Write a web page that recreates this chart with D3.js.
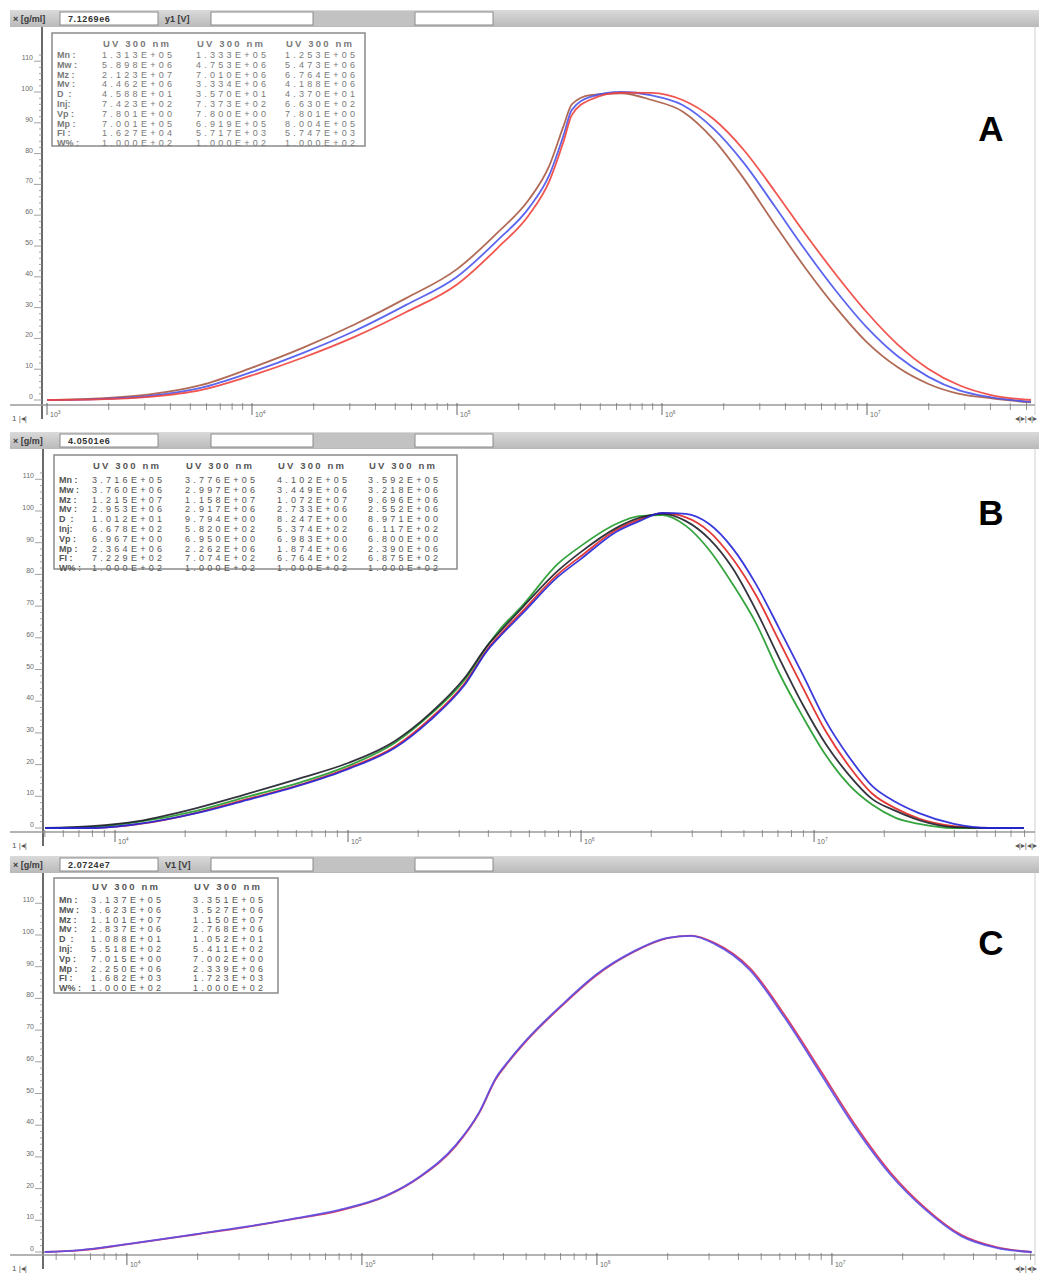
<!DOCTYPE html>
<html>
<head>
<meta charset="utf-8">
<script src="https://cdn.jsdelivr.net/npm/d3@7"></script>
<style>
  body { margin: 0; background: #fff; }
  svg { display: block; }
</style>
</head>
<body>
<div id="chart"></div>
<script>
// ---------- data (log10 M vs normalised signal) ----------
const aLogM  = [3.0, 3.25, 3.5, 3.75, 4.0, 4.25, 4.5, 4.75, 5.0, 5.2, 5.35, 5.45, 5.52, 5.56, 5.65, 5.8, 5.95, 6.1, 6.25, 6.4, 6.55, 6.7, 6.85, 7.0, 7.15, 7.3, 7.45, 7.6, 7.8];
const aBrown = [0, 0.5, 1.8, 4.8, 10.5, 17, 24.5, 33, 42.5, 54.5, 65, 76, 89, 96, 99, 99.6, 97.4, 93.7, 84.7, 71.8, 57, 42.8, 29.9, 18.7, 10.6, 5.2, 2.0, 0.6, -0.8];
const aBlue  = [0, 0.3, 1.3, 3.9, 9.1, 15.3, 22.4, 30.8, 40, 52, 62.3, 73, 86, 94.2, 98.4, 100, 98.9, 95.8, 88.2, 76.9, 62.9, 48.6, 35.3, 23.5, 14.2, 7.5, 3.1, 0.9, -0.6];
const aRed   = [0, 0.2, 1, 3.2, 8, 13.8, 20.5, 28.5, 37.5, 49.5, 60, 71, 84, 92.5, 97.5, 99.8, 99.7, 97.4, 91.3, 81.1, 67.8, 53.8, 40.6, 28.4, 18, 10.1, 4.8, 1.7, 0];

const bLogM  = [3.7, 3.9, 4.1, 4.35, 4.55, 4.8, 5.0, 5.2, 5.35, 5.5, 5.6, 5.65, 5.75, 5.9, 6.0, 6.15, 6.25, 6.35, 6.45, 6.55, 6.65, 6.75, 6.85, 6.95, 7.05, 7.15, 7.25, 7.35, 7.45, 7.6, 7.75, 7.9];
const bRed   = [0, 0, 1.2, 4.8, 8.8, 13.8, 18.9, 25.6, 34.3, 45.6, 56.6, 60.8, 68.5, 80, 85.8, 94, 97.3, 99.3, 98, 93.5, 85, 73.5, 59, 44.5, 30.5, 19.5, 10.8, 6.2, 3, 0.6, 0, 0];
const bGreen = [0, 0.3, 1.9, 5.4, 9.5, 14.5, 19.6, 26.8, 35.6, 46.7, 57.7, 62.5, 70.3, 83.3, 89, 95.9, 98.4, 98.7, 95.3, 87.7, 77, 64.7, 48.9, 35.3, 23, 13.6, 7.3, 3.2, 1.3, 0, 0, 0];
const bBlack = [0, 0.6, 2.2, 6.3, 10.4, 15.8, 20.5, 27.4, 36, 47.3, 57.7, 61.8, 69.7, 81.1, 87.1, 94.6, 97.8, 99.1, 96.8, 91.2, 82, 68.8, 53.6, 39.1, 26.5, 16.7, 9.1, 5.4, 2.5, 0.3, 0, 0];
const bBlue  = [0, 0, 1.3, 4.7, 8.5, 13.6, 18.6, 25.2, 33.8, 45.1, 56.2, 60.3, 67.8, 79.2, 84.9, 93.4, 96.8, 99.4, 99.1, 95.9, 88.3, 77, 63, 48.6, 33.8, 22.4, 13.2, 8.2, 4.7, 1.3, 0, 0];

const cLogM  = [3.65, 3.8, 4.0, 4.3, 4.5, 4.7, 4.9, 5.1, 5.25, 5.4, 5.5, 5.57, 5.62, 5.7, 5.85, 6.0, 6.15, 6.3, 6.4, 6.5, 6.65, 6.8, 6.95, 7.1, 7.25, 7.4, 7.55, 7.7, 7.85];
const cRed   = [0, 0.5, 2.4, 5.6, 7.8, 10.3, 13.0, 17.5, 23.8, 33.5, 44.0, 54.6, 59.6, 66.6, 77.6, 87.4, 94.4, 99.0, 99.8, 97.5, 89.6, 74.6, 57.4, 40.0, 25.0, 13.7, 5.4, 1.5, 0];
const cBlue  = [0, 0.6, 2.5, 5.7, 7.9, 10.4, 13.2, 17.7, 24, 33.8, 44.2, 54.9, 59.9, 66.9, 77.9, 87.7, 94.6, 99.1, 99.7, 97.2, 89, 73.8, 56.5, 39.1, 24.3, 13.2, 5, 1.3, 0];

const yTicks = [0, 10, 20, 30, 40, 50, 60, 70, 80, 90, 100, 110];
const aDecades = [3, 4, 5, 6, 7];
const bDecades = [4, 5, 6, 7];
const cDecades = [4, 5, 6, 7];

// result tables
const rowNames = ['Mn :', 'Mw :', 'Mz :', 'Mv :', 'D  :', 'Inj:', 'Vp :', 'Mp :', 'FI :', 'W% :'];
const colHeader = 'UV 300 nm';
const aTable = [
  ['1.313E+05', '5.898E+06', '2.123E+07', '4.462E+06', '4.588E+01', '7.423E+02', '7.801E+00', '7.001E+05', '1.627E+04', '1.000E+02'],
  ['1.333E+05', '4.753E+06', '7.010E+06', '3.334E+06', '3.570E+01', '7.373E+02', '7.800E+00', '6.919E+05', '5.717E+03', '1.000E+02'],
  ['1.253E+05', '5.473E+06', '6.764E+06', '4.188E+06', '4.370E+01', '6.630E+02', '7.801E+00', '8.004E+05', '5.747E+03', '1.000E+02']
];
const bTable = [
  ['3.716E+05', '3.760E+06', '1.215E+07', '2.953E+06', '1.012E+01', '6.678E+02', '6.967E+00', '2.364E+06', '7.229E+02', '1.000E+02'],
  ['3.776E+05', '2.997E+06', '1.158E+07', '2.917E+06', '9.794E+00', '5.820E+02', '6.950E+00', '2.262E+06', '7.074E+02', '1.000E+02'],
  ['4.102E+05', '3.449E+06', '1.072E+07', '2.733E+06', '8.247E+00', '5.374E+02', '6.983E+00', '1.874E+06', '6.764E+02', '1.000E+02'],
  ['3.592E+05', '3.218E+06', '9.696E+06', '2.552E+06', '8.971E+00', '6.117E+02', '6.800E+00', '2.390E+06', '6.875E+02', '1.000E+02']
];
const cTable = [
  ['3.137E+05', '3.623E+06', '1.101E+07', '2.837E+06', '1.088E+01', '5.518E+02', '7.015E+00', '2.250E+06', '1.682E+03', '1.000E+02'],
  ['3.351E+05', '3.527E+06', '1.150E+07', '2.768E+06', '1.052E+01', '5.411E+02', '7.002E+00', '2.339E+06', '1.723E+03', '1.000E+02']
];

// ---------- layout ----------
const width = 1039;
const height = 1274;
const rightEdge = 1035;

const panels = [
  {
    letter: 'A', top: 10, unit: '× [g/ml]', value: '7.1269e6', yLabel: 'y1 [V]',
    axisX: 42, xAxisY: 405, zeroY: 400, ppu: 3.08, xLo: 2.9756, xHi: 7.8195, decades: aDecades,
    series: [
      { logM: aLogM, v: aBrown, color: '#a85a44' },
      { logM: aLogM, v: aBlue, color: '#4a55ec' },
      { logM: aLogM, v: aRed, color: '#f0423c' }
    ],
    table: aTable, box: [52, 33, 313, 113], cols: [137, 231, 320], headY: 44, rowY: 55, rowStep: 9.8,
    textColor: '#7a7a7a', letterY: 141
  },
  {
    letter: 'B', top: 432, unit: '× [g/m]', value: '4.0501e6', yLabel: '',
    axisX: 43, xAxisY: 832, zeroY: 828, ppu: 3.17, xLo: 3.691, xHi: 7.948, decades: bDecades,
    series: [
      { logM: bLogM, v: bRed, color: '#e02424' },
      { logM: bLogM, v: bGreen, color: '#1f9a2a' },
      { logM: bLogM, v: bBlack, color: '#1e1e2a' },
      { logM: bLogM, v: bBlue, color: '#2424d8' }
    ],
    table: bTable, box: [54, 455, 403, 114], cols: [127, 220, 312, 403], headY: 466, rowY: 480, rowStep: 9.8,
    textColor: '#555', letterY: 525
  },
  {
    letter: 'C', top: 856, unit: '× [g/m]', value: '2.0724e7', yLabel: 'V1 [V]',
    axisX: 43, xAxisY: 1255, zeroY: 1252, ppu: 3.17, xLo: 3.643, xHi: 7.864, decades: cDecades,
    series: [
      { logM: cLogM, v: cRed, color: '#d42a5a' },
      { logM: cLogM, v: cBlue, color: '#5a4ee6' }
    ],
    table: cTable, box: [54, 878, 224, 115], cols: [126, 228], headY: 887, rowY: 900, rowStep: 9.8,
    textColor: '#555', letterY: 955
  }
];

const svg = d3.select('#chart')
  .append('svg')
  .attr('width', width)
  .attr('height', height)
  .style('font-family', "'Liberation Sans', Arial, sans-serif");

const defs = svg.append('defs');
const grad = defs.append('linearGradient').attr('id', 'bar').attr('x1', 0).attr('y1', 0).attr('x2', 0).attr('y2', 1);
grad.append('stop').attr('offset', '0%').attr('stop-color', '#dadada');
grad.append('stop').attr('offset', '100%').attr('stop-color', '#b9b9b9');

function drawPanel(p) {
  const g = svg.append('g');

  // toolbar strip on top of each plot
  const barH = 17;
  g.append('rect').attr('x', 10).attr('y', p.top).attr('width', width - 10).attr('height', barH)
    .attr('fill', 'url(#bar)');
  g.append('rect').attr('x', 313).attr('y', p.top + 1).attr('width', 101).attr('height', barH - 2)
    .attr('fill', '#c2c2c2');
  [[60, 98], [211, 102], [415, 78]].forEach(([bx, bw]) => {
    g.append('rect').attr('x', bx).attr('y', p.top + 2).attr('width', bw).attr('height', barH - 4)
      .attr('fill', '#fff').attr('stroke', '#8a8a8a').attr('stroke-width', 1);
  });
  g.append('text').attr('x', 13).attr('y', p.top + 12).attr('font-size', 9).attr('font-weight', 'bold')
    .attr('fill', '#3a3a3a').text(p.unit);
  g.append('text').attr('x', 68).attr('y', p.top + 12).attr('font-size', 9).attr('font-weight', 'bold')
    .attr('fill', '#333').attr('letter-spacing', 0.6).text(p.value);
  if (p.yLabel) {
    g.append('text').attr('x', 165).attr('y', p.top + 12).attr('font-size', 9).attr('font-weight', 'bold')
      .attr('fill', '#3a3a3a').text(p.yLabel);
  }

  const x = d3.scaleLog()
    .domain([Math.pow(10, p.xLo), Math.pow(10, p.xHi)])
    .range([p.axisX, rightEdge]);

  const y = d3.scaleLinear()
    .domain([0, 110])
    .range([p.zeroY, p.zeroY - 110 * p.ppu]);

  // frame at right
  g.append('line').attr('x1', rightEdge).attr('x2', rightEdge)
    .attr('y1', p.top + barH).attr('y2', p.xAxisY + 10)
    .attr('stroke', '#d0d0d0');

  // y axis
  g.append('line').attr('x1', p.axisX).attr('x2', p.axisX)
    .attr('y1', p.top + barH).attr('y2', p.xAxisY + 14)
    .attr('stroke', '#6a6a6a').attr('stroke-width', 2);

  d3.range(0, 114, 2).forEach(v => {
    if (y(v) < p.top + barH + 2) return;
    const major = v % 10 === 0;
    g.append('line').attr('x1', p.axisX - (major ? 8 : 3)).attr('x2', p.axisX)
      .attr('y1', y(v)).attr('y2', y(v))
      .attr('stroke', '#8a8a8a').attr('stroke-width', 0.8);
  });

  yTicks.forEach(v => {
    g.append('text').attr('x', p.axisX - 9).attr('y', y(v) - 1)
      .attr('text-anchor', 'end').attr('font-size', 7).attr('fill', '#6a6a6a')
      .text(v);
  });

  // x axis
  g.append('line').attr('x1', 10).attr('x2', rightEdge)
    .attr('y1', p.xAxisY).attr('y2', p.xAxisY)
    .attr('stroke', '#9a9a9a').attr('stroke-width', 1.5);

  const dMin = Math.floor(p.xLo), dMax = Math.ceil(p.xHi);
  for (let d = dMin; d <= dMax; d++) {
    for (let m = 2; m <= 9; m++) {
      const val = m * Math.pow(10, d);
      const lv = Math.log10(val);
      if (lv < p.xLo || lv > p.xHi) continue;
      g.append('line').attr('x1', x(val)).attr('x2', x(val))
        .attr('y1', p.xAxisY - 2).attr('y2', p.xAxisY + 5)
        .attr('stroke', '#777').attr('stroke-width', 0.8);
    }
  }
  p.decades.forEach(e => {
    const px = x(Math.pow(10, e));
    g.append('line').attr('x1', px).attr('x2', px)
      .attr('y1', p.xAxisY - 2).attr('y2', p.xAxisY + 10)
      .attr('stroke', '#666').attr('stroke-width', 1);
    const t = g.append('text').attr('x', px + 3).attr('y', p.xAxisY + 12)
      .attr('font-size', 7).attr('fill', '#6a6a6a');
    t.append('tspan').text('10');
    t.append('tspan').attr('dy', -3).attr('font-size', 5).text(e);
  });

  // control glyphs under the axis
  g.append('text').attr('x', 12).attr('y', p.xAxisY + 16).attr('font-size', 8).attr('fill', '#555')
    .text('1  |◂|');
  g.append('text').attr('x', rightEdge + 2).attr('y', p.xAxisY + 16).attr('font-size', 8).attr('fill', '#555')
    .attr('text-anchor', 'end').text('◂|▸|◂|▸');

  // traces
  const line = d3.line()
    .x(d => x(Math.pow(10, d[0])))
    .y(d => y(d[1]))
    .curve(d3.curveMonotoneX);

  p.series.forEach(s => {
    const pts = s.logM.map((l, i) => [l, s.v[i]]);
    g.append('path').datum(pts)
      .attr('d', line)
      .attr('fill', 'none')
      .attr('stroke', s.color)
      .attr('stroke-width', 1.8)
      .attr('stroke-opacity', 0.9);
  });

  // result table
  const [bx, by, bw, bh] = p.box;
  g.append('rect').attr('x', bx).attr('y', by).attr('width', bw).attr('height', bh)
    .attr('fill', '#fff').attr('stroke', '#8a8a8a').attr('stroke-width', 1.5);

  p.cols.forEach((cx, ci) => {
    g.append('text').attr('x', cx - 34).attr('y', p.headY + 3)
      .attr('font-size', 9.5).attr('font-weight', 'bold').attr('fill', p.textColor)
      .attr('textLength', 66).attr('lengthAdjust', 'spacing')
      .text(colHeader);
    p.table[ci].forEach((val, ri) => {
      g.append('text').attr('x', cx - 35).attr('y', p.rowY + ri * p.rowStep + 3)
        .attr('font-size', 9).attr('fill', p.textColor)
        .attr('textLength', 70).attr('lengthAdjust', 'spacing')
        .text(val);
    });
  });
  rowNames.forEach((r, ri) => {
    g.append('text').attr('x', bx + 5).attr('y', p.rowY + ri * p.rowStep + 3)
      .attr('font-size', 9).attr('font-weight', 'bold').attr('fill', p.textColor)
      .attr('xml:space', 'preserve')
      .text(r);
  });

  // panel letter
  g.append('text').attr('x', 991).attr('y', p.letterY)
    .attr('text-anchor', 'middle').attr('font-size', 35).attr('font-weight', 'bold')
    .attr('fill', '#000').text(p.letter);
}

panels.forEach(drawPanel);
</script>
</body>
</html>
